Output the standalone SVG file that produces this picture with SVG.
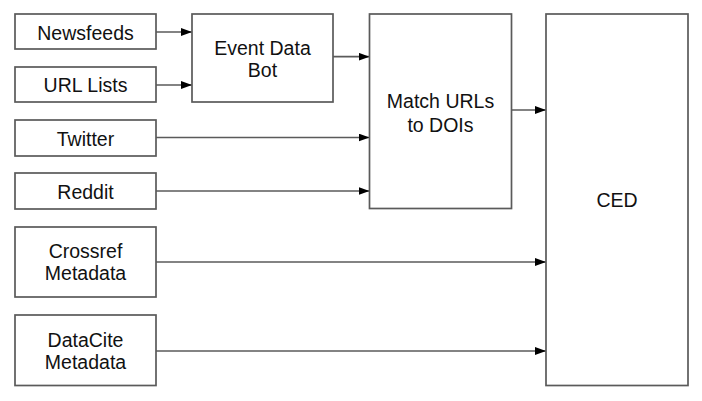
<svg xmlns="http://www.w3.org/2000/svg" width="702" height="401" viewBox="0 0 702 401">
<style>
.box{fill:#fff;stroke:#5a5a5a;stroke-width:1.7}
.lbl{font-family:"Liberation Sans",Arial,Helvetica,sans-serif;font-size:19.5px;fill:#111;text-anchor:middle}
.conn{stroke:#5a5a5a;stroke-width:1.7;fill:none;marker-end:url(#ah)}
</style>
<defs>
<marker id="ah" viewBox="0 0 11 8" refX="11" refY="4" markerWidth="11" markerHeight="8" markerUnits="userSpaceOnUse" orient="auto">
<path d="M0,0 L11,4 L0,8 Z" fill="#000"/>
</marker>
</defs>
<rect width="702" height="401" fill="#fff"/>
<g id="connectors">
<line class="conn" x1="156" y1="32" x2="192" y2="32"/>
<line class="conn" x1="156" y1="85" x2="192" y2="85"/>
<line class="conn" x1="333" y1="56.7" x2="369.5" y2="56.7"/>
<line class="conn" x1="156" y1="137.5" x2="369.5" y2="137.5"/>
<line class="conn" x1="156" y1="191" x2="369.5" y2="191"/>
<line class="conn" x1="511.5" y1="110" x2="546" y2="110"/>
<line class="conn" x1="156" y1="262" x2="546" y2="262"/>
<line class="conn" x1="156" y1="351" x2="546" y2="351"/>
</g>
<g id="newsfeeds"><rect class="box" x="15" y="14" width="141" height="35"/><text class="lbl" x="85.5" y="39.7">Newsfeeds</text></g>
<g id="url-lists"><rect class="box" x="15" y="67" width="141" height="35"/><text class="lbl" x="85.5" y="92.3">URL Lists</text></g>
<g id="twitter"><rect class="box" x="15" y="120" width="141" height="36"/><text class="lbl" x="85.5" y="146.3">Twitter</text></g>
<g id="reddit"><rect class="box" x="15" y="173" width="141" height="36"/><text class="lbl" x="85.5" y="199.4">Reddit</text></g>
<g id="event-data-bot"><rect class="box" x="192" y="14" width="141" height="88"/><text class="lbl" x="262.5" y="54.7">Event Data</text><text class="lbl" x="262.5" y="77.3">Bot</text></g>
<g id="match-urls"><rect class="box" x="369.5" y="14" width="142" height="194.5"/><text class="lbl" x="440.5" y="108.3">Match URLs</text><text class="lbl" x="440.5" y="131.7">to DOIs</text></g>
<g id="crossref"><rect class="box" x="15" y="227" width="141" height="70"/><text class="lbl" x="85.5" y="257.7">Crossref</text><text class="lbl" x="85.5" y="280.3">Metadata</text></g>
<g id="datacite"><rect class="box" x="15" y="315" width="141" height="70.5"/><text class="lbl" x="85.5" y="346.7">DataCite</text><text class="lbl" x="85.5" y="369.3">Metadata</text></g>
<g id="ced"><rect class="box" x="546" y="14" width="142" height="371.5"/><text class="lbl" x="617" y="207.3">CED</text></g>
</svg>
